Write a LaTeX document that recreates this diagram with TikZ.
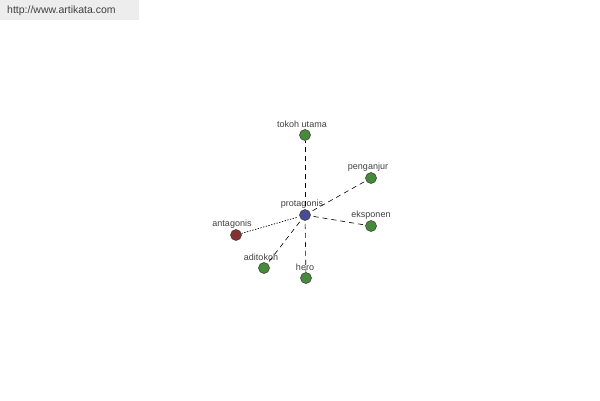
\documentclass[tikz,border=0pt]{standalone}
\usepackage{fontspec}
\setmainfont{Liberation Sans}
\begin{document}
\begin{tikzpicture}[x=1pt,y=-1pt,
  dot/.style={circle,draw=black!80,line width=0.5pt,minimum size=11pt,inner sep=0pt},
  lab/.style={font=\fontsize{9}{10}\selectfont,text=black!75},
  dsh/.style={draw=black,line width=0.6pt,dash pattern=on 5pt off 4pt,shorten <=3pt},
  dtt/.style={draw=black,line width=0.7pt,dash pattern=on 1.3pt off 1.5pt,shorten <=3pt}]
\useasboundingbox[fill=white] (0,0) rectangle (600,400);
\fill[black!7] (0,0) rectangle (139,20);
\node[font=\fontsize{10.5}{12}\selectfont,text=black!75,anchor=west,inner sep=0pt] (url) at (7,11) {http://www.artikata.com};
\definecolor{gn}{RGB}{72,138,60}
\definecolor{bl}{RGB}{72,76,150}
\definecolor{rd}{RGB}{135,50,50}
\node[dot,fill=bl] (p) at (305,215) {};
\node[dot,fill=gn] (t) at (305,135) {};
\node[dot,fill=gn] (pe) at (371,178) {};
\node[dot,fill=gn] (e) at (371,226) {};
\node[dot,fill=gn] (h) at (306,278) {};
\node[dot,fill=gn] (a) at (264,268) {};
\node[dot,fill=rd] (an) at (236,235) {};
\node[lab] (lp) at (302,204) {protagonis};
\node[lab] (lt) at (302,124) {tokoh utama};
\node[lab] (lpe) at (368,167) {penganjur};
\node[lab] (le) at (371,215) {eksponen};
\node[lab] (lh) at (305,267) {hero};
\node[lab] (la) at (261,257) {aditokoh};
\node[lab] (lan) at (232,224) {antagonis};
\draw[dsh] (p) -- (t);
\draw[dsh] (p) -- (pe);
\draw[dsh] (p) -- (e);
\draw[dsh] (p) -- (h);
\draw[dsh] (p) -- (a);
\draw[dtt] (p) -- (an);
\end{tikzpicture}
\end{document}
